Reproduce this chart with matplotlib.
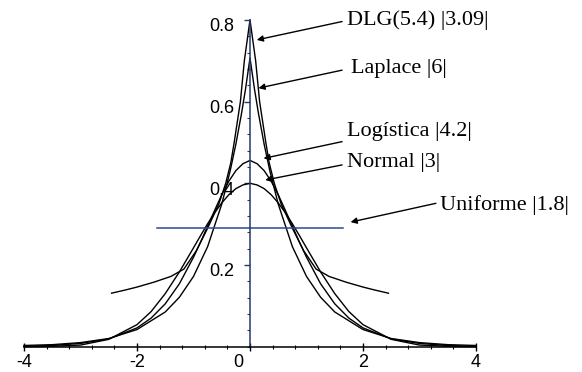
import numpy as np
import matplotlib
matplotlib.use('Agg')
import matplotlib.pyplot as plt
from matplotlib.ticker import MultipleLocator
from matplotlib.transforms import ScaledTranslation

# curves
x_norm = [-4, -3.5, -3, -2.5, -2, -1.75, -1.5, -1.25, -1, -0.875, -0.75, -0.625, -0.5, -0.375, -0.25, -0.125, 0,
          0.125, 0.25, 0.375, 0.5, 0.625, 0.75, 0.875, 1, 1.25, 1.5, 1.75, 2, 2.5, 3, 3.5, 4]
y_norm = [0.000, 0.001, 0.004, 0.018, 0.054, 0.086, 0.130, 0.183, 0.242, 0.272, 0.301, 0.328, 0.352, 0.372, 0.387, 0.396, 0.400,
          0.396, 0.387, 0.372, 0.352, 0.328, 0.301, 0.272, 0.242, 0.183, 0.130, 0.086, 0.054, 0.018, 0.004, 0.001, 0.000]

x_logis = x_norm
y_logis = [0.001, 0.003, 0.008, 0.019, 0.046, 0.070, 0.105, 0.154, 0.219, 0.256, 0.295, 0.334, 0.372, 0.405, 0.431, 0.448, 0.456,
           0.448, 0.431, 0.405, 0.372, 0.334, 0.295, 0.256, 0.219, 0.154, 0.105, 0.070, 0.046, 0.019, 0.008, 0.003, 0.001]

x_lap = [-4, -3.5, -3, -2.5, -2, -1.5, -1.25, -1, -0.75, -0.5, -0.35, -0.25, -0.15, -0.08, 0,
         0.08, 0.15, 0.25, 0.35, 0.5, 0.75, 1, 1.25, 1.5, 2, 2.5, 3, 3.5, 4]
y_lap = [0.003, 0.005, 0.010, 0.020, 0.042, 0.085, 0.121, 0.172, 0.245, 0.349, 0.431, 0.496, 0.571, 0.630, 0.707,
         0.630, 0.571, 0.496, 0.431, 0.349, 0.245, 0.172, 0.121, 0.085, 0.042, 0.020, 0.010, 0.005, 0.003]

x_dlg = [-2.45, -2.2, -2, -1.7, -1.4, -1.17, -0.95, -0.75, -0.55, -0.43, -0.34, -0.28, -0.17, -0.1, -0.05, 0,
         0.05, 0.1, 0.17, 0.28, 0.34, 0.43, 0.55, 0.75, 0.95, 1.17, 1.4, 1.7, 2, 2.2, 2.45]
y_dlg = [0.131, 0.139, 0.146, 0.158, 0.172, 0.190, 0.235, 0.290, 0.350, 0.400, 0.450, 0.500, 0.600, 0.700, 0.750, 0.800,
         0.750, 0.700, 0.600, 0.500, 0.450, 0.400, 0.350, 0.290, 0.235, 0.190, 0.172, 0.158, 0.146, 0.139, 0.131]

x_unif = [-1.64, 1.64]
y_unif = [0.29, 0.29]

# labels: text, text position (left, middle), arrow tail, arrow head
labels = ['DLG(5.4) |3.09|', 'Laplace |6|', 'Logística |4.2|', 'Normal |3|', 'Uniforme |1.8|']
label_pos = [(1.72, 0.800), (1.78, 0.682), (1.72, 0.528), (1.72, 0.452), (3.37, 0.347)]
arrow_tail = [(1.63, 0.796), (1.63, 0.677), (1.63, 0.502), (1.63, 0.445), (3.29, 0.351)]
arrow_head = [(0.12, 0.751), (0.15, 0.633), (0.24, 0.461), (0.27, 0.408), (1.78, 0.305)]

xticks = [-4, -2, 0, 2, 4]
yticks = [0.2, 0.4, 0.6, 0.8]

fig = plt.figure(figsize=(5.82, 3.72), dpi=100)
ax = fig.add_axes([24/582, 25.3/372, 452/582, 326.8/372])

axis_blue = '#27386e'
for xs, ys in [(x_norm, y_norm), (x_logis, y_logis), (x_lap, y_lap), (x_dlg, y_dlg)]:
    ax.plot(xs, ys, color='black', lw=1.0, clip_on=False)
ax.plot(x_unif, y_unif, color='#2c4a8c', lw=1.1, clip_on=False)

ax.set_xlim(-4, 4)
ax.set_ylim(0, 0.8)
ax.spines['top'].set_visible(False)
ax.spines['right'].set_visible(False)
ax.spines['left'].set_position(('data', 0))
ax.spines['bottom'].set_position(('data', 0))
ax.spines['left'].set_color(axis_blue)
ax.spines['left'].set_linewidth(1.1)
ax.spines['bottom'].set_linewidth(1.1)

ax.set_xticks(xticks)
ax.set_xticklabels([str(t) for t in xticks])
ax.set_yticks(yticks)
ax.set_yticklabels([str(t) for t in yticks])
ax.xaxis.set_minor_locator(MultipleLocator(0.4))
ax.yaxis.set_minor_locator(MultipleLocator(0.04))
ax.tick_params(axis='x', which='major', direction='inout', length=6, width=1, pad=2,
               labelsize=13, labelfontfamily='Liberation Sans')
ax.tick_params(axis='x', which='minor', direction='inout', length=3, width=0.8)
ax.tick_params(axis='y', which='major', direction='out', length=4, width=1, pad=7,
               labelsize=13, labelfontfamily='Liberation Sans', color=axis_blue)
ax.tick_params(axis='y', which='minor', direction='out', length=2.5, width=0.8, color=axis_blue)

# tick labels sit a little off their ticks in the original
for lab in ax.get_yticklabels():
    lab.set_transform(lab.get_transform() + ScaledTranslation(0, -5/100, fig.dpi_scale_trans))
zero_lab = ax.get_xticklabels()[2]
zero_lab.set_transform(zero_lab.get_transform() + ScaledTranslation(-12/100, 0, fig.dpi_scale_trans))

for txt, pos, tail, head in zip(labels, label_pos, arrow_tail, arrow_head):
    ax.text(pos[0], pos[1], txt, ha='left', va='center', fontsize=16,
            family='Liberation Serif', clip_on=False)
    ax.annotate('', xy=head, xytext=tail, annotation_clip=False,
                arrowprops=dict(arrowstyle='-|>', color='black', lw=1.0,
                                mutation_scale=9, shrinkA=0, shrinkB=0))

fig.savefig('out.png', dpi=100)
